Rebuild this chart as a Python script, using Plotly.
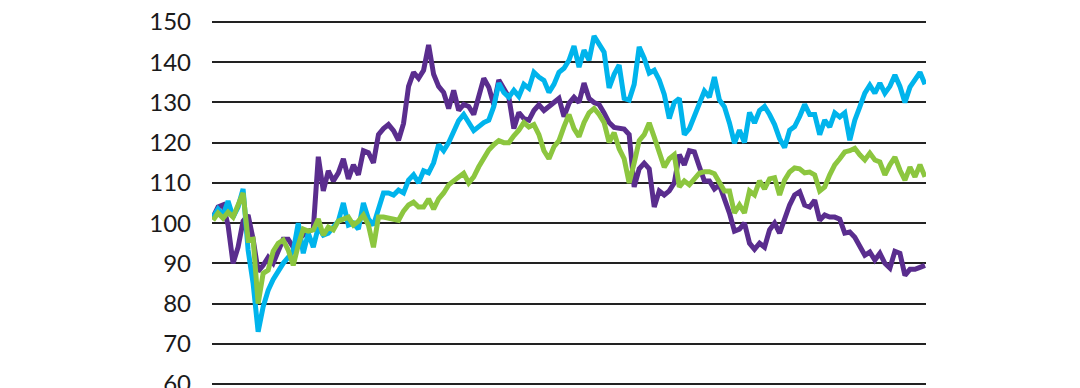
import plotly.graph_objects as go

# Week index (shared by all series)
weeks = list(range(143))

purple = [101.5, 104, 104.5, 99.5, 90, 94, 100.5, 102, 96, 88,
          89.5, 91.5, 90, 93, 96, 96, 94, 96, 97, 98,
          98.5, 116.5, 108, 113, 110.5, 112.5, 116, 111, 114.5, 112,
          118, 117.5, 115, 122, 123.5, 124.5, 123, 120.6, 124.8, 134,
          137.5, 136, 138, 144.3, 137, 134, 132.5, 128.5, 133, 128,
          129.5, 129, 127, 131, 136, 133.8, 129.4, 135.6, 133.5, 131.3,
          123.5, 127.5, 126, 125.6, 128, 129.4, 128, 128.9, 129.8, 131,
          126.5, 129.8, 131.3, 130, 134.8, 131, 130, 129.5, 127.4, 125,
          123.8, 123.5, 123.4, 122, 109, 113.5, 114.9, 113.5, 104, 108,
          107, 108, 110, 117, 114.5, 118, 117.7, 114, 110.5, 110.5,
          108.5, 109.5, 106, 102.5, 98, 98.5, 100, 95, 93.5, 95,
          94, 98.3, 100, 97.5, 101, 104.5, 107, 107.8, 104.5, 104,
          105.7, 100.7, 102, 101.5, 101.5, 101, 97.5, 97.8, 96.5, 94,
          92, 92.8, 90.8, 92.5, 90, 88.8, 93, 92.5, 87, 88.5,
          88.5, 89, 89.5]

blue = [101.5, 103.5, 102, 105.5, 101.5, 104, 108.5, 93.3, 85, 73,
        79.2, 83.3, 86, 88.3, 90, 91.5, 93, 100, 92.5, 97.5,
        94, 99, 97, 97.5, 98.8, 100.5, 105, 99.5, 100, 98.5,
        105, 101, 99.5, 104, 107.5, 107.5, 107, 108.2, 107.5, 110.7,
        112, 110, 113, 112.5, 115, 119.5, 118, 120, 123, 125.5,
        127, 125, 123, 124, 125, 125.6, 129, 134.8, 132.5, 131.3,
        133, 131.5, 134.5, 133.5, 137.5, 136.3, 135.5, 132.5, 134.5, 137.5,
        138.5, 140.5, 144, 138.8, 143, 140.5, 146.5, 144.5, 142.5, 133.6,
        137, 139.3, 131, 130.6, 134.5, 143.8, 141, 137.3, 138, 135.6,
        132, 126, 130, 131, 122, 123.5, 126.4, 129.5, 132.8, 131.3,
        136.3, 130.6, 128.9, 124.9, 119.9, 123.1, 120, 127.5, 124.9, 128,
        129, 127, 124.5, 121, 118.8, 123.1, 124, 126.5, 129.5, 127,
        127, 122, 125.6, 123.9, 127.4, 126.4, 127.4, 120.6, 125.6, 128.9,
        132.3, 134.3, 132.3, 134.8, 132.3, 134, 136.8, 134, 130, 133.8,
        135.8, 137.5, 134.5]

green = [100.7, 102.5, 101.2, 102.7, 101.5, 104.5, 107.5, 95.8, 96, 80,
         87.5, 88.3, 93, 95, 95.8, 93.3, 89.5, 94.5, 98.5, 98,
         98.3, 101, 97, 99, 98.3, 100.5, 101, 101.5, 99.5, 100.5,
         102, 99.5, 94, 101.5, 101.5, 101.3, 101, 100.7, 103, 104.5,
         105.2, 104, 104, 106, 103.5, 106, 107.5, 109.5, 110.5, 111.5,
         112.4, 110, 111.5, 114, 116, 118.2, 119.5, 120.5, 120, 120,
         121.7, 123.1, 125, 123.9, 124.5, 122, 118, 116, 119, 120.5,
         124, 127, 123.5, 121.5, 125, 127.4, 128.5, 127, 125, 120.1,
         122.5, 118.5, 116, 110, 115, 120.5, 122, 124.9, 121.4, 117.4,
         113.9, 116, 117, 109, 110.5, 109.5, 110.9, 112.4, 112.8, 112.8,
         112.3, 110, 108, 108, 102.5, 104.5, 102.5, 108, 107, 110.5,
         108.5, 111, 111.3, 107, 110.7, 112.7, 113.7, 113.5, 112.5, 112.7,
         112, 108, 109, 112, 114.5, 116, 117.7, 118, 118.6, 117,
         115.7, 117.4, 115.7, 115.2, 112, 114.5, 116.4, 113.2, 110.7, 113.9,
         111.5, 114.5, 111.5]

y_ticks = [60, 70, 80, 90, 100, 110, 120, 130, 140, 150]

series = [
    ("Purple", purple, "#5a2d8e"),
    ("Blue", blue, "#00b4ec"),
    ("Green", green, "#8cc63f"),
]

fig = go.Figure()
for name, vals, color in series:
    fig.add_trace(go.Scatter(
        x=weeks, y=vals, mode="lines", name=name,
        line=dict(color=color, width=5, shape="linear"),
        hoverinfo="skip",
    ))

fig.update_layout(
    width=1072, height=380,
    margin=dict(l=204, r=154, t=12, b=2, autoexpand=False),
    paper_bgcolor="white", plot_bgcolor="white",
    showlegend=False,
    font=dict(family="Lato, 'Open Sans', sans-serif", color="#1a1a1a", size=24),
)
fig.update_xaxes(
    range=[-0.2, 142.2], showgrid=False, showticklabels=False,
    zeroline=False, showline=False, ticks="", automargin=False,
)
fig.update_yaxes(
    range=[59.5, 150.5], tickvals=y_ticks, ticktext=[str(v) for v in y_ticks],
    showgrid=True, gridcolor="#222222", gridwidth=1.5,
    zeroline=False, showline=False, ticks="", automargin=False,
    ticklabelstandoff=20, ticklabeloverflow="allow",
    tickfont=dict(size=24, color="#1a1a1a"),
)

fig.write_html("out.html")
